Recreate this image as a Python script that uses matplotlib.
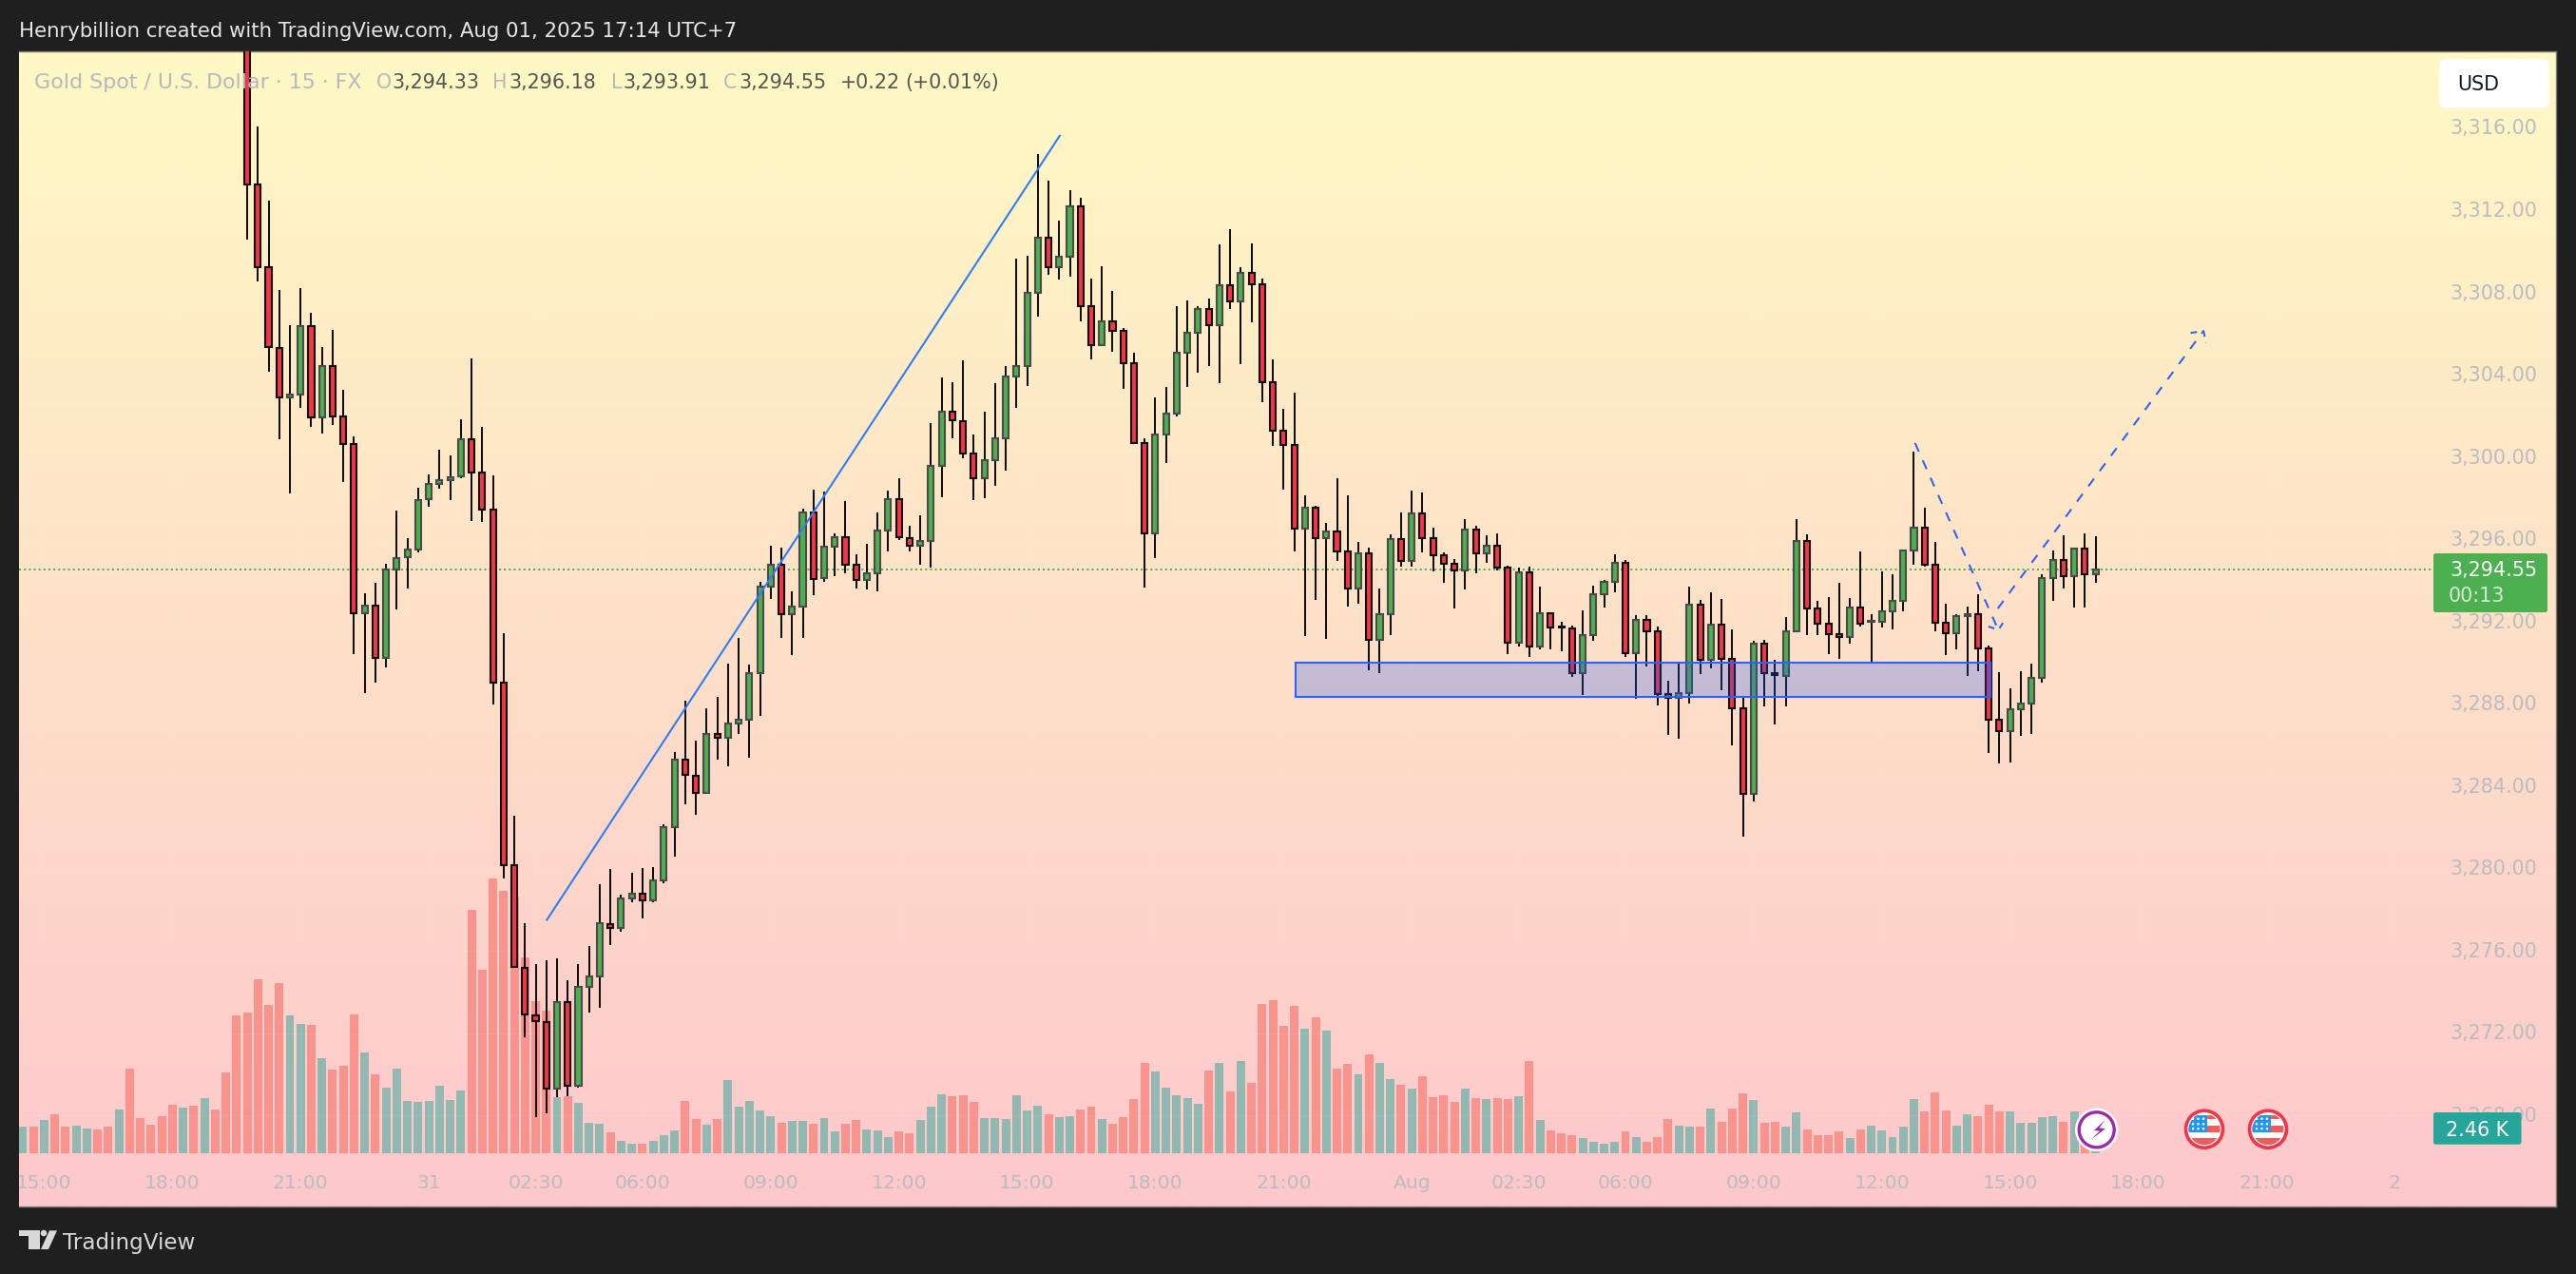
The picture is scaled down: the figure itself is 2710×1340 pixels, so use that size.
import numpy as np
import matplotlib
matplotlib.use("Agg")
import matplotlib.pyplot as plt
from matplotlib.colors import LinearSegmentedColormap
from matplotlib.patches import Circle, Rectangle, Polygon, FancyBboxPatch
from matplotlib.transforms import IdentityTransform

plt.rcParams['font.family'] = ['DejaVu Sans']

# ---------------------------------------------------------------- data
first_candle = 21   # bars before this one lie above the visible price range

opens = [
 3321.50,3313.26,3309.24,3305.34,3302.90,3303.07,3306.37,3301.93,3304.43,3301.97,
 3300.67,3292.42,3292.79,3290.27,3294.56,3295.14,3295.53,3297.97,3298.73,3298.90,
 3299.08,3300.90,3299.25,3297.45,3289.03,3280.16,3275.19,3272.88,3272.56,3269.29,
 3273.53,3269.43,3274.24,3274.75,3277.32,3277.10,3278.54,3278.77,3278.45,3279.42,
 3282.01,3285.29,3284.53,3283.67,3286.54,3286.38,3287.04,3287.23,3289.49,3293.70,
 3294.76,3292.37,3292.73,3297.31,3294.11,3295.64,3296.11,3294.80,3294.02,3294.35,
 3296.46,3297.99,3296.09,3295.69,3295.95,3299.60,3302.24,3301.78,3300.17,3298.97,
 3299.88,3300.94,3303.95,3304.46,3308.02,3310.67,3309.24,3309.74,3312.23,3307.34,
 3305.44,3306.60,3306.14,3304.57,3300.68,3296.29,3301.10,3302.12,3305.07,3306.05,
 3307.20,3306.42,3308.36,3307.59,3308.96,3308.40,3303.64,3301.28,3300.59,3296.52,
 3297.54,3296.06,3296.38,3295.41,3293.61,3295.32,3291.11,3292.36,3296.01,3294.95,
 3297.26,3296.06,3295.23,3294.84,3294.49,3296.47,3295.32,3295.69,3294.66,3290.97,
 3294.39,3290.79,3292.41,3291.76,3291.67,3289.49,3291.34,3293.33,3293.93,3294.86,
 3290.46,3292.08,3291.53,3288.48,3288.29,3288.52,3292.82,3290.14,3291.85,3290.20,
 3287.78,3283.62,3290.93,3289.49,3289.36,3291.53,3295.92,3292.64,3291.90,3291.39,
 3291.25,3292.68,3292.00,3291.99,3292.50,3293.01,3295.46,3296.57,3294.76,3291.94,
 3291.44,3292.27,3292.39,3290.70,3287.24,3286.67,3287.74,3288.01,3289.26,3294.12,
 3295.00,3294.21,3295.55,3294.33]
closes = [
 3313.26,3309.24,3305.36,3302.90,3303.07,3306.37,3301.93,3304.43,3302.00,3300.67,
 3292.42,3292.79,3290.27,3294.56,3295.10,3295.53,3297.93,3298.71,3298.88,3299.04,
 3300.90,3299.25,3297.45,3289.03,3280.16,3275.22,3272.90,3272.59,3269.29,3273.53,
 3269.43,3274.24,3274.75,3277.34,3277.10,3278.54,3278.77,3278.45,3279.42,3282.01,
 3285.29,3284.55,3283.67,3286.54,3286.38,3287.04,3287.23,3289.49,3293.70,3294.76,
 3292.37,3292.73,3297.31,3294.10,3295.64,3296.11,3294.80,3294.02,3294.35,3296.46,
 3297.99,3296.11,3295.69,3295.95,3299.60,3302.24,3301.79,3300.17,3298.97,3299.88,
 3300.94,3303.95,3304.46,3308.02,3310.67,3309.24,3309.74,3312.23,3307.34,3305.44,
 3306.60,3306.14,3304.57,3300.68,3296.29,3301.10,3302.12,3305.07,3306.05,3307.20,
 3306.42,3308.36,3307.59,3308.96,3308.40,3303.64,3301.28,3300.59,3296.52,3297.54,
 3296.06,3296.38,3295.41,3293.61,3295.32,3291.11,3292.36,3296.01,3294.95,3297.26,
 3296.06,3295.23,3294.84,3294.49,3296.47,3295.32,3295.69,3294.66,3290.97,3294.39,
 3290.79,3292.41,3291.71,3291.71,3289.49,3291.34,3293.33,3293.93,3294.86,3290.46,
 3292.08,3291.53,3288.48,3288.31,3288.52,3292.82,3290.14,3291.85,3290.20,3287.78,
 3283.62,3290.93,3289.49,3289.40,3291.53,3295.92,3292.64,3291.90,3291.39,3291.25,
 3292.68,3291.90,3292.04,3292.50,3293.01,3295.46,3296.57,3294.76,3291.94,3291.44,
 3292.27,3292.39,3290.70,3287.24,3286.67,3287.74,3288.01,3289.26,3294.12,3295.00,
 3294.21,3295.55,3294.30,3294.55]
highs = [
 3322.50,3316.09,3312.48,3308.14,3306.41,3308.23,3307.03,3305.36,3306.20,3303.29,
 3301.02,3293.41,3293.90,3294.81,3297.43,3296.09,3298.53,3299.19,3300.36,3300.09,
 3301.87,3304.80,3301.50,3299.12,3291.43,3282.56,3277.35,3275.36,3275.55,3275.64,
 3274.58,3275.36,3276.24,3279.25,3279.99,3278.74,3279.80,3280.03,3280.08,3282.16,
 3285.67,3288.17,3286.23,3287.80,3288.35,3289.97,3291.22,3289.92,3293.95,3295.70,
 3295.62,3293.48,3297.53,3298.42,3298.34,3296.30,3297.88,3295.31,3295.78,3297.31,
 3298.40,3298.99,3296.66,3297.18,3301.67,3303.89,3303.66,3304.72,3301.11,3302.22,
 3303.61,3304.44,3309.67,3309.81,3314.75,3313.46,3311.52,3313.00,3312.63,3308.70,
 3309.30,3308.10,3306.29,3305.09,3300.93,3302.92,3303.43,3307.36,3307.63,3307.36,
 3307.73,3310.36,3311.10,3309.25,3310.41,3308.70,3304.77,3302.36,3303.15,3298.15,
 3297.65,3296.81,3298.99,3298.15,3295.89,3295.61,3293.62,3296.26,3297.32,3298.39,
 3298.29,3296.58,3295.38,3295.06,3297.00,3296.67,3296.21,3296.30,3294.73,3294.64,
 3294.69,3293.72,3292.47,3292.01,3291.82,3292.56,3293.76,3294.04,3295.29,3295.01,
 3292.33,3292.33,3291.77,3289.14,3289.97,3293.72,3293.07,3293.44,3293.11,3291.64,
 3288.34,3291.08,3291.13,3290.16,3292.24,3297.00,3296.26,3293.02,3293.21,3293.90,
 3293.16,3295.43,3292.38,3294.46,3294.32,3295.52,3300.28,3297.55,3295.89,3292.88,
 3292.38,3292.75,3293.35,3290.85,3289.56,3288.77,3289.60,3289.97,3294.32,3295.47,
 3296.21,3295.61,3296.31,3296.18]
lows = [
 3310.60,3308.56,3304.16,3300.88,3298.24,3302.41,3301.48,3301.17,3301.58,3298.79,
 3290.44,3288.54,3289.05,3289.80,3292.62,3293.61,3295.39,3297.60,3298.49,3297.93,
 3299.00,3296.90,3296.85,3287.98,3279.52,3275.20,3271.82,3267.92,3268.10,3268.89,
 3268.92,3269.37,3273.00,3273.24,3276.29,3276.93,3278.37,3277.58,3278.37,3279.29,
 3280.59,3283.13,3282.62,3283.65,3285.30,3284.98,3286.55,3285.40,3287.43,3293.11,
 3291.22,3290.39,3291.22,3293.30,3293.95,3294.22,3294.38,3293.62,3293.58,3293.48,
 3295.42,3295.97,3295.43,3294.78,3294.66,3298.08,3300.93,3299.96,3297.92,3298.02,
 3298.62,3299.36,3302.41,3303.47,3306.85,3308.88,3308.65,3308.79,3306.62,3304.77,
 3305.40,3305.14,3303.33,3300.66,3293.67,3295.10,3299.73,3301.99,3303.43,3304.12,
 3304.44,3303.61,3307.22,3304.54,3306.57,3302.69,3300.56,3298.43,3295.43,3291.31,
 3293.07,3291.17,3294.96,3292.75,3292.88,3289.65,3289.51,3291.36,3294.69,3294.69,
 3295.38,3294.46,3293.90,3292.65,3293.58,3294.36,3294.87,3294.50,3290.43,3290.80,
 3290.30,3290.67,3290.67,3290.57,3289.32,3288.45,3291.08,3292.70,3293.44,3290.30,
 3288.26,3289.83,3287.94,3286.50,3286.32,3288.03,3289.46,3289.74,3288.68,3285.99,
 3281.56,3283.27,3287.89,3287.01,3287.89,3291.50,3291.36,3291.36,3290.43,3290.20,
 3290.94,3291.78,3290.06,3291.73,3291.64,3292.51,3294.78,3294.69,3291.54,3290.39,
 3290.67,3289.37,3289.60,3285.63,3285.12,3285.16,3286.46,3286.55,3289.05,3293.02,
 3293.62,3292.70,3292.70,3293.91]

# volume in relative units (last bar, 78 units, is the 2.46 K of the tag)
volume = [
  83, 83,104,122, 83, 86, 77, 74, 83,137,266,110, 89,116,152,143,149,173,137,254,
 434,443,548,467,536,434,407,404,299,263,275,437,317,248,206,266,164,161,164,212,
 167,197,768,578,866,827,809,617,479,449,176,179,158, 95, 92, 65, 38, 29, 29, 38,
  56, 71,164,107, 89,107,230,146,164,134,116, 95,101,101, 92,110, 68, 92,104, 74,
  71, 50, 68, 62,104,146,185,179,182,161,110,110,107,182,134,149,122,113,116,137,
 146,107, 92,113,170,284,257,206,182,173,155,260,284,194,290,221,470,482,401,464,
 392,428,386,266,281,248,311,284,233,215,203,242,176,182,161,203,173,170,173,170,
 179,290,104, 71, 62, 56, 47, 35, 29, 35, 68, 50, 35, 50,107, 86, 83, 83,140, 98,
 140,188,167, 95, 98, 83,128, 74, 56, 56, 68, 47, 74, 86, 71, 50, 83,170,131,191,
 134, 86,122,116,152,131,131, 95, 95,113,116, 98,131, 60, 78]
# direction of the bars whose candles are off the chart (1 = up)
early_up = [1,0,1,0,0,1,1,0,0,1,0,0,0,0,0,1,0,1,0,0,0]

last_price = 3294.55
price_ticks = [3316, 3312, 3308, 3304, 3300, 3296, 3292, 3288, 3284, 3280, 3276, 3272, 3268]
time_pos = [2, 14, 26, 38, 48, 58, 70, 82, 94, 106, 118, 130, 140, 150, 162, 174, 186, 198, 210, 222]
time_lab = ["15:00", "18:00", "21:00", "31", "02:30", "06:00", "09:00", "12:00", "15:00", "18:00",
            "21:00", "Aug", "02:30", "06:00", "09:00", "12:00", "15:00", "18:00", "21:00", "2"]

# drawings, in bar index / price
trend_x, trend_y = [49.0, 97.1], [3277.47, 3315.68]
zone_x, zone_y = [119.1, 184.2], [3288.35, 3290.02]
down_x, down_y = [177.1, 184.9], [3300.70, 3291.61]
down_head_x, down_head_y = [183.96, 184.9, 185.6], [3291.78, 3291.61, 3292.16]
up_x, up_y = [184.85, 204.1], [3292.65, 3306.15]
up_head_x, up_head_y = [202.9, 204.1, 204.36], [3306.05, 3306.15, 3305.55]

# ---------------------------------------------------------------- layout
W, H = 2710, 1340
DARK = '#1F1F1F'
fig = plt.figure(figsize=(W / 100, H / 100), dpi=100, facecolor=DARK)
L, R, T_, B_ = 20, 2689, 54, 1269
rect = [L / W, 1 - B_ / H, (R - L) / W, (B_ - T_) / H]
PX_BAR = 11.24
PX_USD = 21.63
xlim = ((L - 24) / PX_BAR, (R - 24) / PX_BAR)
ylim = (3316 - (B_ - 135) / PX_USD, 3316 + (135 - T_) / PX_USD)

# background + volume
ax_bg = fig.add_axes(rect)
cmap = LinearSegmentedColormap.from_list('bg', ['#FFF9C4', '#FDC8CC'])
ax_bg.imshow(np.linspace(0, 1, 512)[:, None], cmap=cmap, aspect='auto', extent=[0, 1, 0, 1],
             transform=ax_bg.transAxes, zorder=0, interpolation='bilinear')
n = len(volume)
vol_x = np.arange(n)
o = np.array(opens); c = np.array(closes); h = np.array(highs); l = np.array(lows)
up = c >= o
vol_up = np.array(list(map(bool, early_up)) + list(up))
ax_bg.bar(vol_x, volume, width=0.8, color=np.where(vol_up, '#91B8B1', '#F8938E'), zorder=2, linewidth=0)
ax_bg.set_xlim(*xlim)
ax_bg.set_ylim((1212.7 - B_) * 3, (1212.7 - T_) * 3)
ax_bg.set_xticks([]); ax_bg.set_yticks([])
for s in ax_bg.spines.values():
    s.set_color('#7C7C74'); s.set_linewidth(1.0)
ax_bg.spines['left'].set_visible(False)

# price pane
ax = fig.add_axes(rect)
ax.patch.set_visible(False)
ax.set_axis_off()
ax.set_xlim(*xlim); ax.set_ylim(*ylim)

for t in time_pos:
    ax.axvline(t, color='white', alpha=0.07, lw=1, zorder=0.5)
for p in price_ticks:
    ax.axhline(p, color='white', alpha=0.07, lw=1, zorder=0.5)

ax.plot([xlim[0], (2560 - 24) / PX_BAR], [last_price, last_price], color='#4CAF50', lw=1.4,
        linestyle=(0, (1.05, 1.6)), zorder=1)

x = np.arange(first_candle, first_candle + len(opens))
ax.vlines(x, l, h, color='#0F0F0F', lw=1.45, zorder=3)
ax.bar(x, np.abs(c - o), bottom=np.minimum(o, c), width=0.54,
       color=np.where(up, '#4CAF50', '#F23645'),
       edgecolor=np.where(up, '#4A4A4A', '#0D0D0D'), linewidth=1.5, zorder=4)

ax.add_patch(Rectangle((zone_x[0], zone_y[0]), zone_x[1] - zone_x[0], zone_y[1] - zone_y[0],
                       facecolor=(30 / 255, 84 / 255, 248 / 255, 0.25), edgecolor='#2962FF',
                       linewidth=1.5, zorder=5))
ax.plot(trend_x, trend_y, color='#2F7DF6', lw=1.5, zorder=6, solid_capstyle='butt')
dash = (0, (4.8, 4.8))
ax.plot(down_x, down_y, color='#2E66EE', lw=1.5, linestyle=dash, zorder=6)
ax.plot(down_head_x, down_head_y, color='#2E66EE', lw=1.5, linestyle=(0, (3.2, 3.2)), zorder=6)
ax.plot(up_x, up_y, color='#2E66EE', lw=1.5, linestyle=dash, zorder=6)
ax.plot(up_head_x, up_head_y, color='#2E66EE', lw=1.5, linestyle=(0, (3.2, 3.2)), zorder=6)

# price axis labels
GREY = '#B9BCC0'
for p in price_ticks:
    ax.text((2623 - L) / (R - L), p + 0.07, f"{p:,.2f}", transform=ax.get_yaxis_transform(), ha='center',
            va='center_baseline', fontsize=14.9, color=GREY, zorder=7)
# time axis labels
for t, s in zip(time_pos, time_lab):
    ax.text(t, (B_ - 1242.7) / (B_ - T_), s, transform=ax.get_xaxis_transform(), ha='center',
            va='center_baseline', fontsize=14.6, color=GREY, zorder=7, clip_on=True)

# ---------------------------------------------------------------- overlays in pixel space
def T(x0, y0, s, **kw):
    kw.setdefault('va', 'center_baseline')
    kw.setdefault('fontsize', 14.9)
    return fig.text(x0 / W, 1 - y0 / H, s, **kw)

def PX(x0, y0):
    return (x0, H - y0)

ID = IdentityTransform()

def box(x0, y0, x1, y1, color, rad=2.5):
    fig.add_artist(FancyBboxPatch(PX(x0 + rad, y1 - rad), x1 - x0 - 2 * rad, y1 - y0 - 2 * rad,
                                  boxstyle=f"round,pad={rad},rounding_size={rad}", facecolor=color,
                                  edgecolor='none', transform=ID, zorder=5))

T(20, 31, "Henrybillion created with TradingView.com, Aug 01, 2025 17:14 UTC+7", color='#E6E6E6', fontsize=15.3)

LEG = '#B6B8BD'; VAL = '#555555'
T(36, 85, "Gold Spot / U.S. Dollar · 15 · FX", color=LEG, fontsize=15.9, zorder=6)
for xl, sl, xv, sv in [(396, "O", 412, "3,294.33"), (518, "H", 535, "3,296.18"),
                       (643, "L", 655, "3,293.91"), (761, "C", 777, "3,294.55")]:
    T(xl, 85, sl, color=LEG, zorder=6)
    T(xv, 85, sv, color=VAL, zorder=6)
T(884, 85, "+0.22", color=VAL, zorder=6)
T(952, 85, "(+0.01%)", color=VAL, zorder=6)

box(2566, 62, 2682, 113.6, 'white', rad=7)
T(2585, 87, "USD", color='#131722', fontsize=14.9, zorder=6)

box(2560, 582, 2680, 644, '#4CAF50', rad=2.5)
T(2577, 598, "3,294.55", color='white', zorder=6)
T(2576, 625, "00:13", color='#D8EDD9', zorder=6)

box(2560, 1170, 2652.5, 1203.7, '#26A69A', rad=2.5)
T(2606, 1187, "2.46 K", color='white', ha='center', zorder=6)

# footer logo and word mark
LOGO = '#D8D8D8'
for pts in ([(20, 1294.3), (41.5, 1294.3), (41.5, 1314), (30, 1314), (30, 1299.5), (20, 1299.5)],
            [(52, 1294.3), (60, 1294.3), (51, 1314), (43, 1314)]):
    fig.add_artist(Polygon([PX(*p) for p in pts], closed=True, facecolor=LOGO, edgecolor='none', transform=ID))
fig.add_artist(Circle(PX(46, 1297), 3.3, facecolor=LOGO, edgecolor='none', transform=ID))
T(66, 1305, "TradingView", color=LOGO, fontsize=16.6)

# event icons
fig.add_artist(Circle(PX(2205.7, 1188.3), 22.7, facecolor='white', edgecolor='none', transform=ID, zorder=5))
fig.add_artist(Circle(PX(2205.7, 1188.3), 18.5, facecolor='white', edgecolor='#9C27B0', linewidth=2.4, transform=ID, zorder=5))
bolt = [(2214, 1178.5), (2203, 1189), (2209, 1189.5), (2199.5, 1199), (2215, 1187), (2208.5, 1186.5)]
fig.add_artist(Polygon([PX(*p) for p in bolt], closed=True, facecolor='#9C27B0', edgecolor='none', transform=ID, zorder=6))

for cx in (2319, 2386):
    cy = 1187.7
    fig.add_artist(Circle(PX(cx, cy), 19.5, facecolor='white', edgecolor='#F23645', linewidth=2.6, transform=ID, zorder=5))
    clip = Circle(PX(cx, cy), 16.5, transform=ID)
    parts = [(-17, -15, 34, 4.2, '#F15B5B'), (-17, -3.5, 34, 6.5, '#F15B5B'), (-17, 9, 34, 9, '#F15B5B'),
             (-17, -15, 20, 18, '#2196F3')]
    for dx, dy, w, hh, col in parts:
        r = Rectangle(PX(cx + dx, cy + dy + hh), w, hh, facecolor=col, edgecolor='none', transform=ID, zorder=6)
        fig.add_artist(r)
        r.set_clip_path(clip)
    for sx in (-12, -6.5, -1):
        for sy in (-11, -5.5, -0.5):
            fig.add_artist(Circle(PX(cx + sx, cy + sy), 1.3, facecolor='white', edgecolor='none', transform=ID, zorder=7))

fig.savefig('out.png', dpi=100, facecolor=DARK)
